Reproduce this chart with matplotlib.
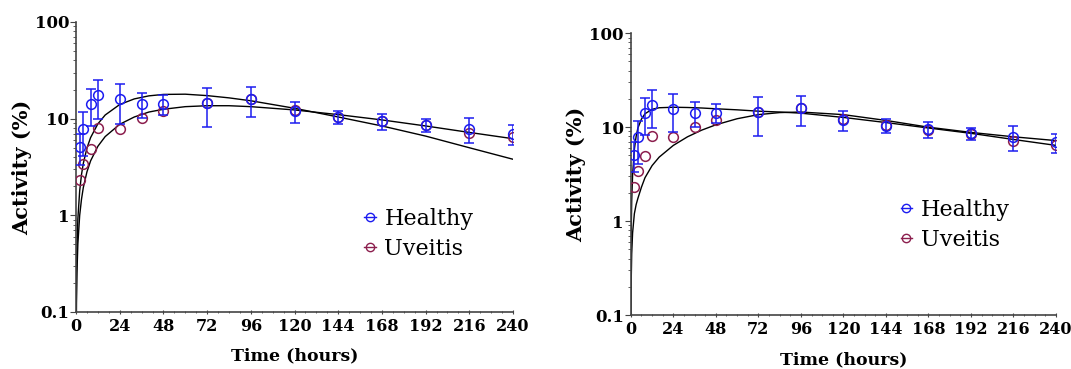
import matplotlib.pyplot as plt
from matplotlib.lines import Line2D
from matplotlib.ticker import LogLocator, MultipleLocator

plt.rcParams['font.family'] = 'DejaVu Serif'

# measured points (same data on both panels)
hours = [2, 4, 8, 12, 24, 36, 48, 72, 96, 120, 144, 168, 192, 216, 240]
healthy = [5.1, 7.9, 14.3, 17.4, 15.8, 14.3, 14.3, 14.5, 15.9, 12.0, 10.4, 9.5, 8.6, 7.9, 6.9]
healthy_sd = [1.8, 3.8, 6.0, 7.5, 7.0, 4.2, 3.3, 6.4, 5.5, 3.0, 1.7, 1.8, 1.3, 2.3, 1.6]
uveitis = [2.3, 3.4, 4.9, 8.0, 7.8, 10.1, 11.9, 14.5, 16.0, 12.2, 10.5, 9.4, 8.5, 7.1, 6.5]

# fitted curves
curve_t = [0.1, 0.25, 0.5, 1, 2, 3, 4, 6, 8, 12, 16, 24, 32, 40, 48, 60, 72, 84, 96,
           120, 144, 168, 192, 216, 240]
left_fit_a = [0.093, 0.23, 0.46, 0.92, 1.79, 2.64, 3.45, 4.97, 6.37, 8.84, 10.9, 14.0, 16.0,
              17.2, 17.8, 17.9, 17.3, 16.4, 15.3, 12.8, 10.4, 8.4, 6.6, 5.0, 3.8]
left_fit_b = [0.051, 0.128, 0.255, 0.505, 1.0, 1.47, 1.94, 2.82, 3.66, 5.18, 6.52, 8.74, 10.4,
              11.7, 12.5, 13.3, 13.6, 13.6, 13.3, 12.3, 11.0, 9.7, 8.4, 7.2, 6.2]
right_fit_a = [0.34, 0.85, 1.65, 3.1, 5.8, 8.0, 9.8, 12.2, 13.9, 15.5, 16.1, 16.3, 16.2,
               16.0, 15.7, 15.3, 14.8, 14.5, 14.1, 12.7, 11.2, 9.8, 8.6, 7.4, 6.4]
right_fit_b = [0.1, 0.25, 0.45, 0.75, 1.2, 1.5, 1.75, 2.3, 2.9, 3.9, 4.8, 6.4, 7.9,
               9.3, 10.6, 12.3, 13.6, 14.3, 14.5, 13.6, 11.8, 10.0, 8.8, 7.9, 7.2]

xticks = [0, 24, 48, 72, 96, 120, 144, 168, 192, 216, 240]
blue = '#1c1cf0'
maroon = '#8c1f4e'

fig = plt.figure(figsize=(10.71, 3.69), dpi=100)
ax1 = fig.add_axes([0.071, 0.1545, 0.408, 0.786])
ax2 = fig.add_axes([0.589, 0.146, 0.397, 0.764])

panels = [(ax1, left_fit_a, left_fit_b, (0.66, 0.27)),
          (ax2, right_fit_a, right_fit_b, (0.635, 0.32))]

for ax, fa, fb, leg_pos in panels:
    ax.plot(curve_t, fa, color='black', lw=1.0, zorder=2)
    ax.plot(curve_t, fb, color='black', lw=1.0, zorder=2)
    ax.plot(hours, uveitis, 'o', mfc='none', mec=maroon, ms=7, mew=1.1, zorder=3)
    ax.errorbar(hours, healthy, yerr=healthy_sd, fmt='o', mfc='none', mec=blue,
                ecolor=blue, ms=7, mew=1.1, elinewidth=1.1, capsize=3.5, capthick=1.1, zorder=4)

    ax.set_yscale('log')
    ax.set_ylim(0.1, 100)
    ax.set_xlim(0, 240)
    ax.set_yticks([0.1, 1, 10, 100])
    ax.set_yticklabels(['0.1', '1', '10', '100'])
    ax.yaxis.set_minor_locator(LogLocator(base=10, subs=range(2, 10)))
    ax.set_xticks(xticks)
    ax.xaxis.set_minor_locator(MultipleLocator(6))

    for s in ['top', 'right']:
        ax.spines[s].set_visible(False)
    for s in ['left', 'bottom']:
        ax.spines[s].set_color('#444444')
        ax.spines[s].set_linewidth(1.2)
    ax.tick_params(axis='y', which='major', labelsize=12, length=4, color='#444444', pad=1)
    ax.tick_params(axis='x', which='major', labelsize=11.5, length=3, color='#444444', pad=3)
    ax.tick_params(axis='both', which='minor', length=2, color='#444444')
    ax.tick_params(axis='x', which='both', direction='inout')
    for lab in ax.get_xticklabels() + ax.get_yticklabels():
        lab.set_fontweight('bold')

    ax.set_xlabel('Time (hours)', fontsize=12.5, fontweight='bold', labelpad=9)
    ax.set_ylabel('Activity (%)', fontsize=15, fontweight='bold', labelpad=2)

    handles = [Line2D([0], [0], color=blue, marker='o', mfc='none', mec=blue, ms=6, lw=1),
               Line2D([0], [0], color=maroon, marker='o', mfc='none', mec=maroon, ms=6, lw=1)]
    ax.legend(handles, ['Healthy', 'Uveitis'], loc='center left', bbox_to_anchor=leg_pos,
              frameon=False, fontsize=16, handlelength=0.5, handletextpad=0.4,
              labelspacing=0.35, borderaxespad=0, borderpad=0)

fig.savefig('out.png', dpi=100)
